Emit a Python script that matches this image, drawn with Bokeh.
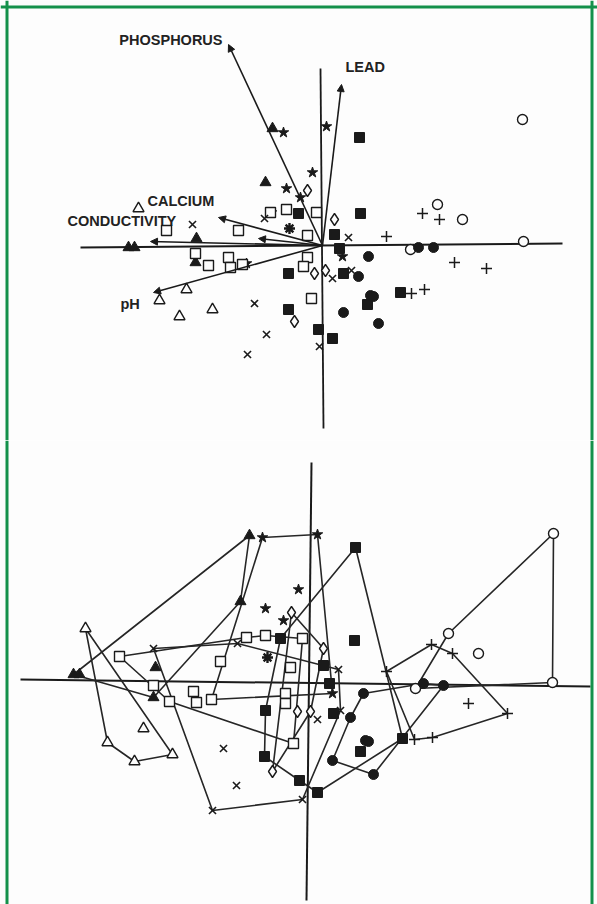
from bokeh.plotting import figure
from bokeh.layouts import column
from bokeh.models import Range1d, Arrow, NormalHead, ColumnDataSource, Span
from bokeh.core.properties import value
from bokeh.embed import file_html
from bokeh.resources import INLINE

# ---------------- Panel A (biplot) : site scores ----------------
tri_f_a_x = [-0.50, -0.57, -1.26, -1.94, -1.88, -1.27]
tri_f_a_y = [1.17, 0.63, 0.07, -0.02, -0.02, -0.17]
tri_o_a_x = [-1.84, -1.36, -1.63, -1.43, -1.10]
tri_o_a_y = [0.37, -0.44, -0.55, -0.71, -0.64]
star_a_x = [-0.39, 0.04, -0.36, -0.10, -0.22, -0.51, -0.76, 0.20]
star_a_y = [1.13, 1.19, 0.57, 0.73, 0.48, 0.33, -0.18, -0.11]
dia_a_x = [-0.15, 0.12, -0.08, 0.03, -0.28]
dia_a_y = [0.55, 0.26, -0.28, -0.25, -0.76]
sq_o_a_x = [-1.56, -0.52, -0.36, -0.06, -0.84, -0.15, -1.27, -1.14, -0.94, -0.92, -0.80, -0.15, -0.19, -0.11]
sq_o_a_y = [0.15, 0.33, 0.36, 0.33, 0.15, 0.10, -0.08, -0.20, -0.12, -0.22, -0.19, -0.12, -0.21, -0.53]
sq_f_a_x = [0.37, -0.24, 0.38, 0.12, 0.17, -0.34, 0.21, -0.34, -0.04, 0.10, 0.78, 0.45]
sq_f_a_y = [1.08, 0.32, 0.32, 0.11, -0.03, -0.28, -0.28, -0.64, -0.84, -0.93, -0.47, -0.59]
x_a_x = [-1.30, -0.58, 0.26, 0.29, 0.10, -0.68, -0.56, -0.75, -0.03]
x_a_y = [0.21, 0.27, 0.08, -0.25, -0.33, -0.58, -0.89, -1.09, -1.01]
ast_a_x = [-0.33]
ast_a_y = [0.17]
ci_o_a_x = [2.00, 1.15, 1.40, 2.01, 0.88]
ci_o_a_y = [1.26, 0.41, 0.26, 0.04, -0.04]
plus_a_x = [1.00, 1.17, 0.64, 1.32, 1.64, 0.89, 1.02]
plus_a_y = [0.32, 0.26, 0.09, -0.17, -0.23, -0.48, -0.44]
ci_f_a_x = [0.46, 0.36, 0.21, 0.56, 0.48, 0.51, 0.96, 1.11]
ci_f_a_y = [-0.11, -0.31, -0.67, -0.78, -0.50, -0.51, -0.02, -0.02]

# environmental vectors (panel A)
vec_names = ["PHOSPHORUS", "LEAD", "CALCIUM", "CONDUCTIVITY", "pH", ""]
vec_x = [-0.94, 0.19, -1.04, -1.72, -1.69, -0.64]
vec_y = [2.01, 1.61, 0.28, 0.04, -0.47, 0.07]
lab_x = [-1.00, 0.23, -1.75, -2.55, -2.02]
lab_y = [2.06, 1.79, 0.45, 0.25, -0.58]
lab_align = ["right", "left", "left", "left", "left"]

# axes (panel A)
axA_hx = [-2.42, 2.40]; axA_hy = [-0.02, 0.02]
axA_vx = [-0.02, 0.01]; axA_vy = [1.77, -1.83]

# ---------------- Panel B (groups enclosed) ----------------
tri_f_b_x = [-0.60, -0.69, -1.54, -2.36, -2.30, -1.56]
tri_f_b_y = [1.47, 0.81, 0.15, 0.08, 0.08, -0.15]
tri_o_b_x = [-2.24, -1.66, -2.02, -1.75, -1.37]
tri_o_b_y = [0.54, -0.46, -0.60, -0.79, -0.72]
star_b_x = [-0.47, 0.08, -0.11, -0.44, -0.26, -0.63, -0.98, 0.23]
star_b_y = [1.45, 1.48, 0.93, 0.74, 0.62, 0.45, -0.17, -0.11]
dia_b_x = [-0.18, 0.14, -0.12, 0.01, -0.37]
dia_b_y = [0.70, 0.34, -0.29, -0.29, -0.89]
sq_o_b_x = [-1.90, -0.63, -0.44, -0.07, -0.89, -0.19, -1.56, -1.40, -1.16, -1.13, -0.98, -0.24, -0.24, -0.16]
sq_o_b_y = [0.26, 0.45, 0.47, 0.44, 0.21, 0.15, -0.03, -0.19, -0.09, -0.20, -0.17, -0.11, -0.21, -0.61]
sq_f_b_x = [0.46, -0.29, 0.45, 0.14, 0.20, -0.44, 0.24, -0.45, -0.10, 0.08, 0.93, 0.51]
sq_f_b_y = [1.35, 0.44, 0.42, 0.17, -0.01, -0.28, -0.31, -0.74, -0.98, -1.10, -0.56, -0.69]
x_b_x = [-1.56, -0.72, 0.29, 0.31, 0.08, -0.86, -0.73, -0.97, -0.07]
x_b_y = [0.34, 0.39, 0.13, -0.28, -0.37, -0.66, -1.03, -1.28, -1.17]
ast_b_x = [-0.42]
ast_b_y = [0.25]
ci_o_b_x = [2.44, 1.39, 1.69, 2.43, 1.06]
ci_o_b_y = [1.49, 0.49, 0.29, 0.00, -0.06]
plus_b_x = [1.22, 1.43, 0.77, 1.59, 1.98, 1.05, 1.23]
plus_b_y = [0.38, 0.29, 0.11, -0.21, -0.31, -0.57, -0.55]
ci_f_b_x = [0.54, 0.41, 0.23, 0.64, 0.56, 0.59, 1.14, 1.34]
ci_f_b_y = [-0.11, -0.35, -0.78, -0.92, -0.58, -0.59, -0.01, -0.03]

axB_hx = [-2.89, 2.81]; axB_hy = [0.03, -0.04]
axB_vx = [0.02, -0.03]; axB_vy = [2.20, -2.18]

INK = "#1a1a1a"
BG = "#fdfdfd"
GREEN = "#14914b"

STYLE = {
    "tri_f": ("triangle", INK, 11, 1.0),
    "tri_o": ("triangle", None, 11, 1.4),
    "star": ("star", INK, 11, 1.0),
    "dia": ("diamond", None, 12, 1.4),
    "sq_o": ("square", None, 10, 1.4),
    "sq_f": ("square", INK, 10, 1.0),
    "x": ("x", None, 10, 1.6),
    "ast": ("asterisk", None, 11, 2.4),
    "ci_o": ("circle", None, 10, 1.4),
    "plus": ("cross", None, 11, 1.5),
    "ci_f": ("circle", INK, 10, 1.0),
}

W = 597
HA, HB = 440, 464
PX = 100.0  # pixels per score unit


def hull(xs, ys):
    pts = sorted(set(zip(xs, ys)))
    if len(pts) < 3:
        return pts

    def cross(o, a, b):
        return (a[0] - o[0]) * (b[1] - o[1]) - (a[1] - o[1]) * (b[0] - o[0])

    lower = []
    for p in pts:
        while len(lower) >= 2 and cross(lower[-2], lower[-1], p) <= 0:
            lower.pop()
        lower.append(p)
    upper = []
    for p in reversed(pts):
        while len(upper) >= 2 and cross(upper[-2], upper[-1], p) <= 0:
            upper.pop()
        upper.append(p)
    return lower[:-1] + upper[:-1]


def base_fig(w, h, xr, yr, top_border):
    p = figure(width=w, height=h, x_range=Range1d(*xr), y_range=Range1d(*yr),
               output_backend="svg", toolbar_location=None, min_border=0)
    p.xaxis.visible = False
    p.yaxis.visible = False
    p.grid.visible = False
    p.outline_line_color = None
    p.background_fill_color = BG
    p.border_fill_color = BG
    # green page frame (left/right, plus top for the upper panel)
    p.add_layout(Span(location=xr[0] + 6.5 / PX, dimension="height", line_color=GREEN, line_width=3))
    p.add_layout(Span(location=xr[1] - 5.5 / PX, dimension="height", line_color=GREEN, line_width=3))
    if top_border:
        p.add_layout(Span(location=yr[1] - 6.5 / PX, dimension="width", line_color=GREEN, line_width=3))
    return p


def draw_points(p, groups):
    for key, xs, ys in groups:
        marker, fill, size, lw = STYLE[key]
        p.scatter(xs, ys, marker=marker, size=size,
                  fill_color=fill if fill else BG,
                  line_color=INK, line_width=lw)


# ---------- Panel A ----------
pa = base_fig(W, HA, (-3.22, 2.75), (-1.95, 2.45), True)
pa.line(axA_hx, axA_hy, line_color=INK, line_width=2.0)
pa.line(axA_vx, axA_vy, line_color=INK, line_width=1.8)
vec_src = ColumnDataSource(dict(x0=[0.0] * len(vec_x), y0=[0.0] * len(vec_y), x1=vec_x, y1=vec_y))
pa.add_layout(Arrow(end=NormalHead(size=7, fill_color=INK, line_color=INK, line_width=1),
                    x_start="x0", y_start="y0", x_end="x1", y_end="y1",
                    line_color=INK, line_width=1.6, source=vec_src))
for nm, lx, ly, al in zip(vec_names, lab_x, lab_y, lab_align):
    pa.text([lx], [ly], text=[nm], text_font=value("Liberation Sans"),
            text_font_style="bold", text_font_size="14.5px", text_color="#222222",
            text_align=al, text_baseline="middle")

groups_a = [("tri_f", tri_f_a_x, tri_f_a_y), ("tri_o", tri_o_a_x, tri_o_a_y),
            ("star", star_a_x, star_a_y), ("dia", dia_a_x, dia_a_y),
            ("sq_o", sq_o_a_x, sq_o_a_y), ("sq_f", sq_f_a_x, sq_f_a_y),
            ("x", x_a_x, x_a_y), ("ast", ast_a_x, ast_a_y),
            ("ci_o", ci_o_a_x, ci_o_a_y), ("plus", plus_a_x, plus_a_y),
            ("ci_f", ci_f_a_x, ci_f_a_y)]
draw_points(pa, groups_a)

# ---------- Panel B ----------
pb = base_fig(W, HB, (-3.09, 2.88), (-2.22, 2.42), False)
pb.line(axB_hx, axB_hy, line_color=INK, line_width=2.0)
pb.line(axB_vx, axB_vy, line_color=INK, line_width=2.0)
groups_b = [("tri_f", tri_f_b_x, tri_f_b_y), ("tri_o", tri_o_b_x, tri_o_b_y),
            ("star", star_b_x, star_b_y), ("dia", dia_b_x, dia_b_y),
            ("sq_o", sq_o_b_x, sq_o_b_y), ("sq_f", sq_f_b_x, sq_f_b_y),
            ("x", x_b_x, x_b_y), ("ast", ast_b_x, ast_b_y),
            ("ci_o", ci_o_b_x, ci_o_b_y), ("plus", plus_b_x, plus_b_y),
            ("ci_f", ci_f_b_x, ci_f_b_y)]
for key, xs, ys in groups_b:
    h = hull(xs, ys)
    if len(h) >= 3:
        hx = [q[0] for q in h] + [h[0][0]]
        hy = [q[1] for q in h] + [h[0][1]]
        pb.line(hx, hy, line_color="#262626", line_width=1.6)
draw_points(pb, groups_b)

layout = column(pa, pb, spacing=0)

open("out.html", "w").write(file_html(layout, INLINE))
